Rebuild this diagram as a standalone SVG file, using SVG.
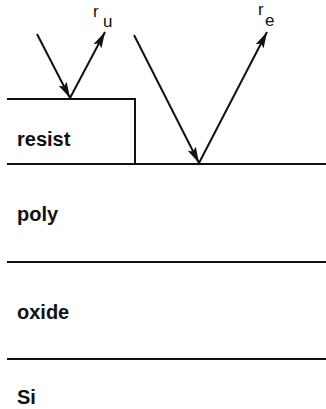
<svg xmlns="http://www.w3.org/2000/svg" width="326" height="409" viewBox="0 0 326 409">
<style>
.ln{stroke:#111;stroke-width:2;fill:none}
.ar{stroke:#111;stroke-width:2;fill:none;marker-end:url(#ah)}
.lbl{font-family:"Liberation Sans",Arial,sans-serif;font-weight:bold;font-size:20px;fill:#111}
.r{font-family:"Liberation Sans",Arial,sans-serif;font-size:17px;fill:#111}
</style>
<defs>
<marker id="ah" markerUnits="userSpaceOnUse" markerWidth="17" markerHeight="10" refX="16" refY="4.5" orient="auto" viewBox="0 0 17 9">
<path d="M0,0 L16,4.5 L0,9 L3,4.5 Z" fill="#111"/>
</marker>
</defs>
<rect width="326" height="409" fill="#fff"/>
<g id="layers">
<path class="ln" d="M7,99 H135 V164"/>
<line class="ln" x1="7" y1="164" x2="326" y2="164"/>
<line class="ln" x1="7" y1="262" x2="326" y2="262"/>
<line class="ln" x1="7" y1="359" x2="326" y2="359"/>
</g>
<g id="labels">
<text class="lbl" x="17" y="146">resist</text>
<text class="lbl" x="17" y="221">poly</text>
<text class="lbl" x="17" y="319">oxide</text>
<text class="lbl" x="17" y="404">Si</text>
</g>
<g id="connectors">
<line class="ar" x1="37" y1="34" x2="70" y2="98"/>
<line class="ar" x1="70" y1="98" x2="105" y2="32"/>
<line class="ar" x1="134" y1="35" x2="199" y2="163"/>
<line class="ar" x1="199" y1="163" x2="267" y2="32"/>
</g>
<g id="ru">
<text class="r" x="93" y="17">r</text>
<text class="r" x="103" y="27">u</text>
</g>
<g id="re">
<text class="r" x="258" y="15">r</text>
<text class="r" x="265" y="26">e</text>
</g>
</svg>
